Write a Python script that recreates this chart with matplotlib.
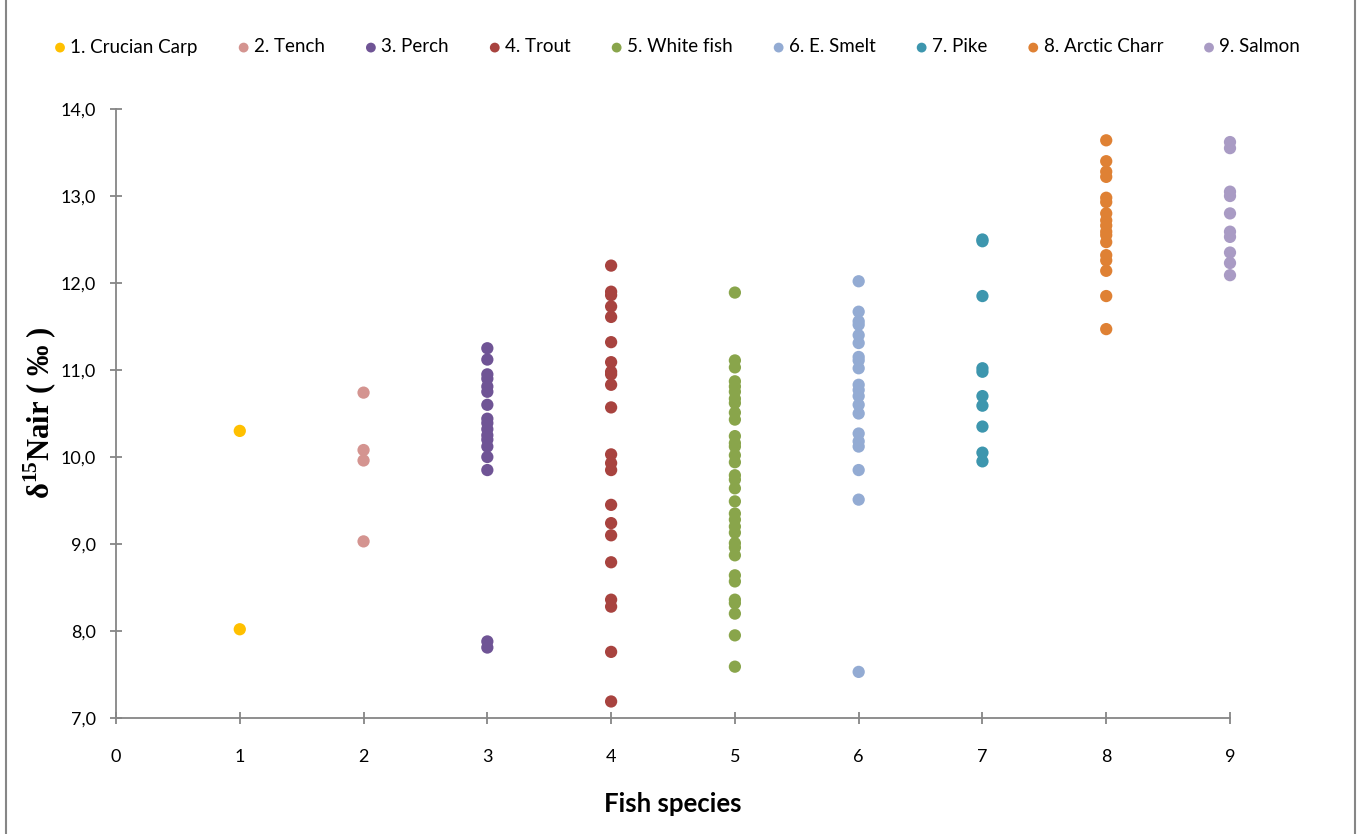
import matplotlib
matplotlib.use("Agg")
import matplotlib.pyplot as plt
from matplotlib.patches import Rectangle

# ---- data ----
species = ["1. Crucian Carp", "2. Tench", "3. Perch", "4. Trout", "5. White fish",
           "6. E. Smelt", "7. Pike", "8. Arctic Charr", "9. Salmon"]
species_x = [1, 2, 3, 4, 5, 6, 7, 8, 9]
colors = ["#FFC000", "#D49490", "#6F5495", "#A8433F", "#89A54B",
          "#93ABD3", "#3D96AE", "#DF8134", "#A99BC4"]

crucian_carp = [10.30, 8.02]
tench = [10.74, 10.08, 9.96, 9.03]
perch = [11.25, 11.12, 10.95, 10.90, 10.81, 10.75, 10.60, 10.44, 10.39, 10.32,
         10.25, 10.20, 10.12, 10.00, 9.85, 7.88, 7.81]
trout = [12.20, 11.90, 11.86, 11.73, 11.61, 11.32, 11.09, 10.98, 10.95, 10.83,
         10.57, 10.03, 9.93, 9.85, 9.45, 9.24, 9.10, 8.79, 8.36, 8.28, 7.76, 7.19]
white_fish = [11.89, 11.11, 11.03, 10.87, 10.81, 10.75, 10.67, 10.62, 10.51, 10.43,
              10.24, 10.16, 10.12, 10.02, 9.94, 9.79, 9.74, 9.64, 9.49, 9.35,
              9.28, 9.20, 9.13, 9.01, 8.96, 8.87, 8.64, 8.57, 8.36, 8.32,
              8.20, 7.95, 7.59]
e_smelt = [12.02, 11.67, 11.56, 11.52, 11.40, 11.31, 11.15, 11.11, 11.02, 10.83,
           10.77, 10.70, 10.60, 10.50, 10.27, 10.18, 10.12, 9.85, 9.51, 7.53]
pike = [12.50, 12.48, 11.85, 11.02, 10.98, 10.70, 10.59, 10.35, 10.05, 9.95]
arctic_charr = [13.64, 13.40, 13.28, 13.22, 12.98, 12.93, 12.80, 12.72, 12.66,
                12.59, 12.55, 12.47, 12.32, 12.26, 12.14, 11.85, 11.47]
salmon = [13.62, 13.55, 13.05, 13.00, 12.80, 12.59, 12.53, 12.35, 12.23, 12.09]

series = [crucian_carp, tench, perch, trout, white_fish, e_smelt, pike, arctic_charr, salmon]

y_ticks = [7, 8, 9, 10, 11, 12, 13, 14]
x_ticks = [0, 1, 2, 3, 4, 5, 6, 7, 8, 9]

# ---- figure ----
W, H, DPI = 1359, 834, 100
fig = plt.figure(figsize=(W / DPI, H / DPI), dpi=DPI)
ax = fig.add_axes([116 / W, 1 - 718 / H, (1230 - 116) / W, (718 - 109) / H])

grey = "#868686"
for xv, vals, col, name in zip(species_x, series, colors, species):
    ax.scatter([xv] * len(vals), vals, s=78, color=col, edgecolors="none",
               label=name, zorder=3, clip_on=False)

ax.set_xlim(0, 9)
ax.set_ylim(7, 14)
ax.set_xticks(x_ticks)
ax.set_yticks(y_ticks)
ax.set_yticklabels([f"{v:.1f}".replace(".", ",") for v in y_ticks])
for s in ["top", "right"]:
    ax.spines[s].set_visible(False)
for s in ["left", "bottom"]:
    ax.spines[s].set_color(grey)
    ax.spines[s].set_linewidth(1.3)
ax.tick_params(axis="both", direction="inout", length=9, width=1.3, color=grey,
               labelsize=13, labelcolor="black")
ax.tick_params(axis="x", pad=18)
ax.tick_params(axis="y", pad=10)
for lab in ax.get_xticklabels() + ax.get_yticklabels():
    lab.set_family("Lato")

ax.set_xlabel("Fish species", fontsize=18.5, fontweight="bold", family="Lato", labelpad=19)

plt.rcParams["mathtext.fontset"] = "custom"
plt.rcParams["mathtext.rm"] = "Liberation Serif:bold"
plt.rcParams["mathtext.bf"] = "Liberation Serif:bold"
fig.text(40 / W, 1 - 413 / H, "δ$^{\\mathrm{15}}$Nair ( ‰ )", rotation=90,
         ha="center", va="center", fontsize=22, fontweight="bold",
         family=["Liberation Serif", "DejaVu Serif"])

leg = fig.legend(loc="center", bbox_to_anchor=(0.497, 1 - 47 / H), ncol=9,
                 frameon=False, prop={"family": "Lato", "size": 13.5},
                 handletextpad=0.05, columnspacing=1.95, markerscale=0.8,
                 handlelength=1.0, scatterpoints=1)

# outer chart border
fig.patches.append(Rectangle((6 / W, -0.01), (1355 - 6) / W, 1.02,
                             transform=fig.transFigure, fill=False,
                             edgecolor=grey, linewidth=1.5))

fig.savefig("out.png", dpi=DPI)
